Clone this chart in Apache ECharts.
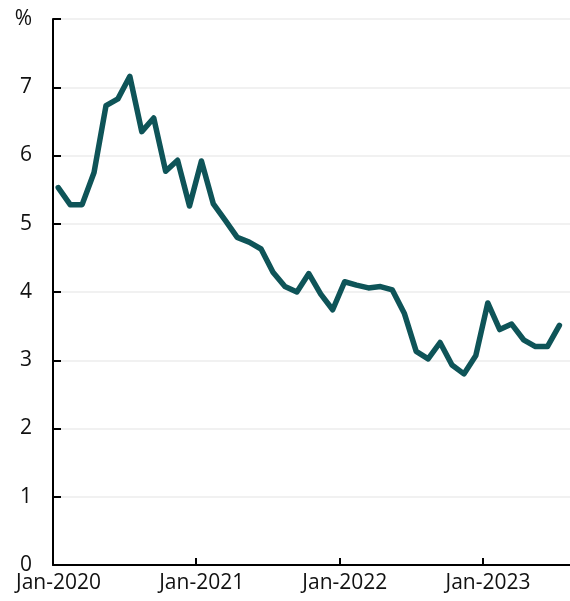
<!DOCTYPE html>
<html>
<head>
<meta charset="utf-8">
<script src="https://cdn.jsdelivr.net/npm/echarts@6/dist/echarts.min.js"></script>
<style>
  html, body { margin: 0; padding: 0; background: #fff; }
  #chart { width: 570px; height: 601px; }
</style>
</head>
<body>
<div id="chart"></div>
<script>
// Monthly rate, Jan-2020 to Jul-2023 (%)
const startYear = 2020;
const values = [
  5.53, 5.28, 5.28, 5.75, 6.73, 6.83, 7.16, 6.35, 6.55, 5.77, 5.93, 5.26,
  5.92, 5.29, 5.05, 4.80, 4.73, 4.63, 4.29, 4.08, 4.00, 4.27, 3.97, 3.74,
  4.15, 4.10, 4.06, 4.08, 4.03, 3.69, 3.13, 3.02, 3.26, 2.93, 2.80, 3.07,
  3.84, 3.45, 3.53, 3.30, 3.20, 3.20, 3.51
];
const yearTicks = [0, 12, 24, 36];          // month index of each January
const yearLabels = ['Jan-2020', 'Jan-2021', 'Jan-2022', 'Jan-2023'];
const yTicks = [0, 1, 2, 3, 4, 5, 6, 7, 8];

// Observations sit part-way into their month
const monthOffset = 0.44;
const points = values.map((v, i) => [i + monthOffset, v]);

const font = '"Open Sans", "Noto Sans", sans-serif';
const chart = echarts.init(document.getElementById('chart'), null, { renderer: 'canvas' });

chart.setOption({
  animation: false,
  backgroundColor: '#ffffff',
  grid: { left: 53, right: 0, top: 19, bottom: 36, containLabel: false },
  xAxis: {
    type: 'value',
    min: 0,
    max: 43.33,
    interval: 12,
    axisLine: { show: true, lineStyle: { color: '#000', width: 2 } },
    axisTick: {
      show: true, inside: true, length: 7,
      lineStyle: { color: '#000', width: 2 },
      customValues: yearTicks
    },
    axisLabel: {
      customValues: yearTicks,
      color: '#111',
      fontFamily: font,
      fontSize: 21,
      margin: 8,
      padding: [0, 0, 0, 11],
      formatter: function (v) {
        const k = yearTicks.indexOf(Math.round(v));
        return (Math.abs(v - Math.round(v)) < 1e-6 && k >= 0) ? yearLabels[k] : '';
      }
    },
    splitLine: { show: false }
  },
  yAxis: {
    type: 'value',
    min: 0,
    max: 8,
    interval: 1,
    axisLine: { show: true, lineStyle: { color: '#000', width: 2 } },
    axisTick: { show: true, inside: true, length: 8, lineStyle: { color: '#000', width: 2 } },
    axisLabel: {
      color: '#111',
      fontFamily: font,
      fontSize: 21,
      margin: 21,
      formatter: function (v) { return v === 8 ? '%' : String(v); }
    },
    splitLine: { show: true, lineStyle: { color: '#ececec', width: 1.5 } }
  },
  series: [{
    type: 'line',
    data: points,
    showSymbol: false,
    symbol: 'none',
    lineStyle: { color: '#0e5458', width: 5.5, join: 'round', cap: 'round' },
    z: 3
  }]
});
</script>
</body>
</html>
